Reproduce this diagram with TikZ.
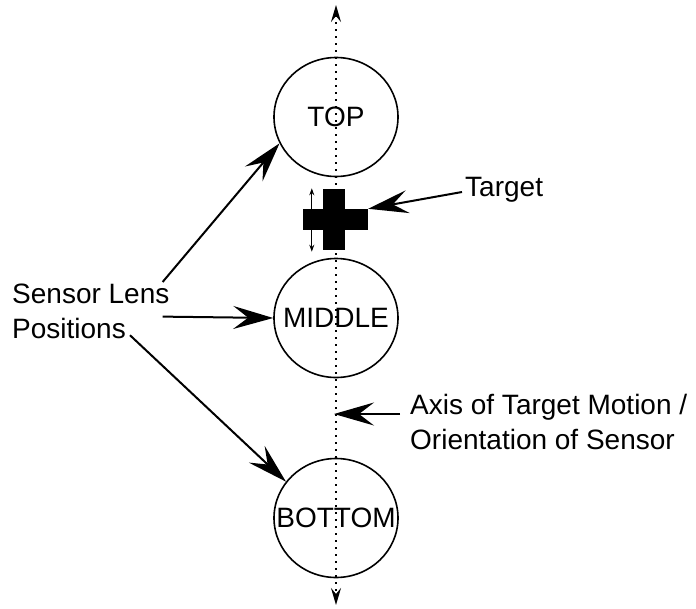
\documentclass[tikz,border=0pt]{standalone}
\usepackage{fontspec}
\setmainfont{Liberation Sans}
\usetikzlibrary{positioning,arrows.meta,calc,shapes.geometric}

\begin{document}
\begin{tikzpicture}[
  x=1pt,y=-1pt,
  >=Stealth,
  lenspos/.style={draw,ellipse,line width=1.6pt,minimum width=124pt,
                  minimum height=119pt,inner sep=0pt,
                  label={[font=\fontsize{28}{34}\selectfont]center:#1}},
  lbl/.style={align=left,inner sep=0pt,font=\fontsize{28}{35}\selectfont},
  bigarr/.style={line width=2pt,-{Stealth[length=40pt,width=23pt,inset=15pt]}},
  bar/.style={fill=black,inner sep=0pt}
]
\useasboundingbox (0,0) rectangle (696,608);
% lens positions along the axis
\node[lenspos=TOP] (top) at (336,117) {};
\node[lenspos=MIDDLE] (mid) at (336,318) {};
\node[lenspos=BOTTOM] (bot) at (336,518) {};
\coordinate (axtop) at (336,5);
\coordinate (axbot) at (336,605);
\draw[line width=1.7pt,dash pattern=on 1.7pt off 5.3pt,
      {Stealth[length=17pt,width=10pt,inset=6pt]}-{Stealth[length=17pt,width=10pt,inset=6pt]}]
  (axtop) -- (axbot);
% target cross
\node[bar,minimum width=22pt,minimum height=61pt] (tgtv) at (334,219) {};
\node[bar,minimum width=65pt,minimum height=21pt] (tgth) at (335.5,219.5) {};
\draw[line width=1.2pt,->,>={Stealth[length=7pt,width=5pt]}]
  ($(tgth.north west)+(9,0)$) -- ($(tgtv.north west)+(-11,0)$);
\draw[line width=1.2pt,->,>={Stealth[length=7pt,width=5pt]}]
  ($(tgth.south west)+(9,0)$) -- ($(tgtv.south west)+(-11,2)$);
% labels
\node[lbl,anchor=north west] (lens) at (12,284) {Sensor Lens\\Positions};
\node[lbl,anchor=west] (tgtlbl) at (465,190) {Target};
\node[lbl,anchor=north west] (axlbl) at (410,394) {Axis of Target Motion /\\Orientation of Sensor};
\coordinate (axpt) at (334,414);
\draw[bigarr] ($(lens.north east)+(-7,-2)$) -- (top.205);
\draw[bigarr] ($(lens.east)+(-7,5)$) -- (mid.west);
\draw[bigarr] ($(lens.south west)+(118,-4)$) -- (bot.144);
\draw[bigarr] ($(tgtlbl.west)+(-3,2)$) -- (tgth.north east);
\draw[bigarr] ($(axlbl.north west)+(-10,20)$) -- (axpt);
\end{tikzpicture}
\end{document}
